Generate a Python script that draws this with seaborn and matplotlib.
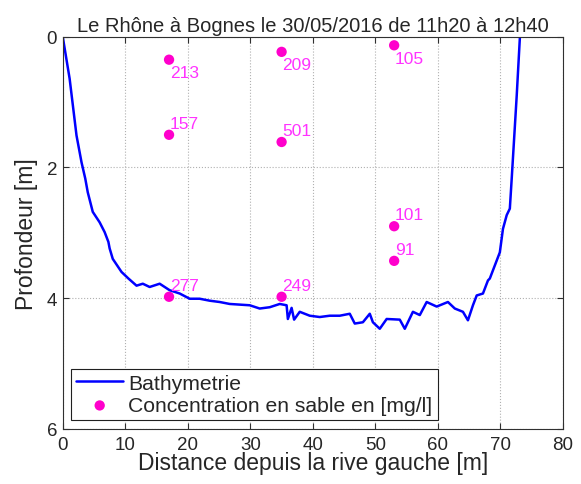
import matplotlib
matplotlib.use("Agg")
import matplotlib.pyplot as plt
import pandas as pd
import seaborn as sns

# ── Data ──────────────────────────────────────────────────
# bathymetry profile (distance [m], depth [m])
dist = [0, 1.1, 2.2, 3.0, 3.6, 4.0, 4.8, 5.9, 6.7, 7.3,
        7.5, 8.0, 9.4, 10.5, 11.8, 12.8, 13.9, 15.5, 17.1, 18.7,
        20.3, 21.9, 23.5, 25.1, 26.7, 28.3, 29.9, 31.5, 33.1, 34.7,
        35.8, 36.0, 36.6, 37.0, 37.9, 39.5, 41.1, 42.7, 44.3, 45.9,
        46.7, 48.0, 49.1, 49.6, 50.7, 51.8, 53.9, 54.7, 56.0, 57.1,
        58.2, 59.8, 61.6, 62.7, 64.0, 64.8, 65.6, 66.2, 67.2, 68.0,
        68.3, 69.1, 69.9, 70.4, 71.0, 71.5, 71.8, 72.6, 73.1, 73.3]
depth = [0, 0.64, 1.51, 1.92, 2.17, 2.38, 2.68, 2.84, 2.99, 3.14,
         3.24, 3.40, 3.60, 3.70, 3.81, 3.78, 3.83, 3.78, 3.88, 3.93,
         4.01, 4.01, 4.04, 4.06, 4.09, 4.10, 4.11, 4.16, 4.14, 4.09,
         4.11, 4.32, 4.15, 4.33, 4.21, 4.27, 4.29, 4.27, 4.27, 4.24,
         4.39, 4.37, 4.24, 4.37, 4.47, 4.32, 4.33, 4.47, 4.21, 4.26,
         4.06, 4.13, 4.06, 4.16, 4.21, 4.34, 4.11, 3.96, 3.93, 3.73,
         3.70, 3.50, 3.30, 2.94, 2.73, 2.63, 2.17, 0.90, 0.02, -0.2]

# sand concentration samples
sample_dist = [17, 17, 17, 35, 35, 35, 53, 53, 53]
sample_depth = [0.35, 1.50, 3.98, 0.23, 1.61, 3.98, 0.13, 2.90, 3.43]
sample_conc = [213, 157, 277, 209, 501, 249, 105, 101, 91]
label_below = [True, False, False, True, False, False, True, False, False]

TITLE = "Le Rhône à Bognes le 30/05/2016 de 11h20 à 12h40"
XLABEL = "Distance depuis la rive gauche [m]"
YLABEL = "Profondeur [m]"

# ── Style (matlab-ish) ────────────────────────────────────
sns.set_style("ticks")
plt.rcParams["font.family"] = ["Liberation Sans", "DejaVu Sans"]
plt.rcParams["xtick.direction"] = "in"
plt.rcParams["ytick.direction"] = "in"

bathy = pd.DataFrame({"dist": dist, "depth": depth})
samples = pd.DataFrame({"dist": sample_dist, "depth": sample_depth,
                        "conc": sample_conc})

fig = plt.figure(figsize=(5.81, 4.85), dpi=100)
ax = fig.add_axes([0.108, 0.114, 0.861, 0.808])

sns.lineplot(data=bathy, x="dist", y="depth", ax=ax, sort=False,
             estimator=None, color="#0000ff", linewidth=1.8,
             label="Bathymetrie")
sns.scatterplot(data=samples, x="dist", y="depth", ax=ax, color="#ff00cc",
                s=55, edgecolor="none", label="Concentration en sable en [mg/l]",
                zorder=3)

for x, y, c, below in zip(sample_dist, sample_depth, sample_conc, label_below):
    ax.annotate(str(c), (x, y), xytext=(0.5, -4 if below else 3),
                textcoords="offset points", va="top" if below else "bottom",
                ha="left", color="#ff33ff", fontsize=12.5)

ax.set_xlim(0, 80)
ax.set_ylim(6, 0)
ax.set_xticks(range(0, 81, 10))
ax.set_yticks([0, 2, 4, 6])
ax.grid(True, linestyle=":", color="#b0b0b0", linewidth=0.8)
ax.tick_params(labelsize=13.5, top=True, right=True, length=4,
               color="#303030")
ax.tick_params(axis="x", pad=5)
ax.tick_params(axis="y", pad=4)
for s in ax.spines.values():
    s.set_color("#303030")
    s.set_linewidth(0.8)

ax.set_title(TITLE, fontsize=14.5, pad=4)
ax.set_xlabel(XLABEL, fontsize=16.5, labelpad=-1)
ax.set_ylabel(YLABEL, fontsize=16.5)
ax.yaxis.set_label_coords(-0.05, 0.5)

leg = ax.legend(loc="lower left", fontsize=15.2, frameon=True, fancybox=False,
                edgecolor="#202020", framealpha=1, borderpad=0.25,
                labelspacing=0.15, handlelength=2.2, handletextpad=0.25,
                borderaxespad=0.4)
leg.get_frame().set_linewidth(0.8)

fig.savefig("out.png", dpi=100)
